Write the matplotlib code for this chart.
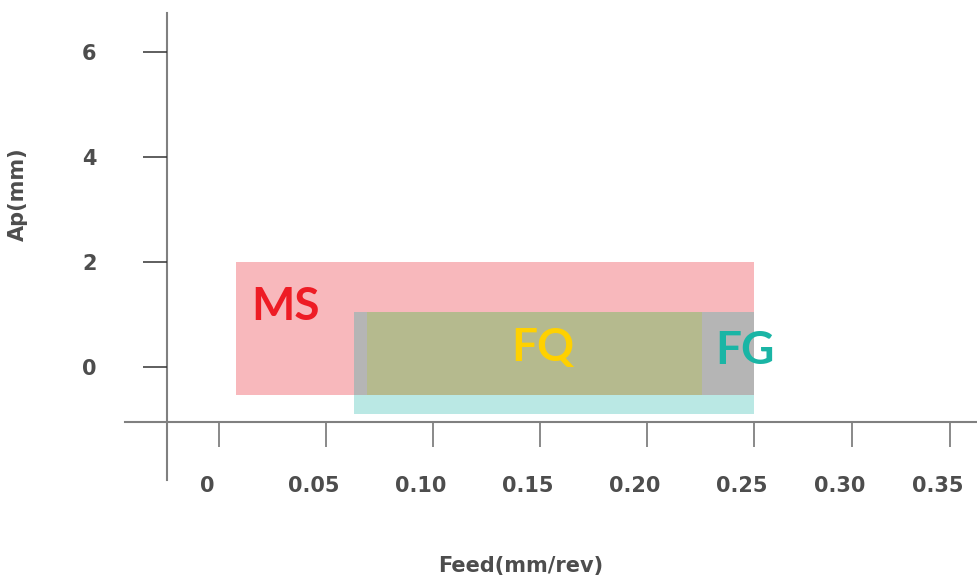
import matplotlib
matplotlib.use("Agg")
import matplotlib.pyplot as plt
import matplotlib.patches as mpatches
import matplotlib.transforms as mtransforms
import numpy as np

# Operating windows: feed range (mm/rev) and Ap range (mm)
grades = ["MS", "FG", "FQ"]
feed_min = [0.008, 0.063, 0.069]
feed_max = [0.250, 0.250, 0.226]
ap_min = [-0.54, -0.90, -0.54]
ap_max = [2.00, 1.04, 1.04]

xticks = [0, 0.05, 0.10, 0.15, 0.20, 0.25, 0.30, 0.35]
xtick_labels = ["0", "0.05", "0.10", "0.15", "0.20", "0.25", "0.30", "0.35"]
yticks = [0, 2, 4, 6]
ytick_labels = ["0", "2", "4", "6"]

PINK = "#F8B8BC"
CYAN = "#BAE8E4"
GRAY = "#B5B5B5"
OLIVE = "#B5BA8E"
TXT = "#4D4D4D"
AXC = "#808080"

# the original axis is squeezed a bit beyond 0.25
BREAK, SQUEEZE = 0.25, 0.916


def fwd(x):
    x = np.asarray(x, dtype=float)
    return np.where(x <= BREAK, x, BREAK + (x - BREAK) * SQUEEZE)


def inv(x):
    x = np.asarray(x, dtype=float)
    return np.where(x <= BREAK, x, BREAK + (x - BREAK) / SQUEEZE)


fig = plt.figure(figsize=(9.78, 5.78), dpi=100)
ax = fig.add_axes([0, 0, 1, 1])
ax.set_xscale("function", functions=(fwd, inv))
ax.set_xlim(-0.1024, 0.3645)
ax.set_ylim(-4.031, 6.99)
ax.patch.set_alpha(0)


def rect(i, color, x0=None, x1=None, y0=None, y1=None):
    x0 = feed_min[i] if x0 is None else x0
    x1 = feed_max[i] if x1 is None else x1
    y0 = ap_min[i] if y0 is None else y0
    y1 = ap_max[i] if y1 is None else y1
    ax.add_patch(mpatches.Rectangle((x0, y0), x1 - x0, y1 - y0,
                                    facecolor=color, edgecolor="none", zorder=2))


# MS (pink), FG (cyan, gray where it overlaps MS), FQ (olive)
rect(0, PINK)
rect(1, CYAN)
rect(1, GRAY, x0=max(feed_min[0], feed_min[1]), x1=min(feed_max[0], feed_max[1]),
     y0=max(ap_min[0], ap_min[1]), y1=min(ap_max[0], ap_max[1]))
rect(2, OLIVE)

lab_font = dict(fontsize=33, fontweight="bold", family=["Lato", "DejaVu Sans"],
                va="center", ha="center")
ax.text(0.0310, 1.13, "MS", color="#EE1C25", **lab_font)
ax.text(0.1515, 0.35, "FQ", color="#FFD100", **lab_font)
ax.text(0.2460, 0.30, "FG", color="#1AB5A5", **lab_font)

# axes lines
for s in ["top", "right"]:
    ax.spines[s].set_visible(False)
ax.spines["left"].set_position(("data", -0.0243))
ax.spines["left"].set_bounds(-2.16, 6.74)
ax.spines["bottom"].set_position(("data", -1.056))
ax.spines["bottom"].set_bounds(-0.044, 0.3645)
for s in ["left", "bottom"]:
    ax.spines[s].set_color(AXC)
    ax.spines[s].set_linewidth(1.5)
    ax.spines[s].set_zorder(1)

ax.set_xticks(xticks)
ax.set_xticklabels(xtick_labels)
ax.set_yticks(yticks)
ax.set_yticklabels(ytick_labels)
ax.minorticks_off()
ax.tick_params(axis="x", direction="out", length=18, width=1.3, color=AXC,
               pad=21, labelsize=15, labelcolor=TXT)
ax.tick_params(axis="y", direction="out", length=17, width=1.1, color="#333333",
               pad=39, labelsize=15, labelcolor=TXT)
for lab in ax.get_xticklabels() + ax.get_yticklabels():
    lab.set_fontweight("bold")
for lab in ax.get_yticklabels():
    lab.set_horizontalalignment("center")
shift = mtransforms.ScaledTranslation(-12 / 100, 0, fig.dpi_scale_trans)
for lab in ax.get_xticklabels():
    lab.set_transform(lab.get_transform() + shift)

fig.text(18 / 978, 1 - 194 / 578, "Ap(mm)", rotation=90, ha="center", va="center",
         fontsize=15, fontweight="bold", color=TXT)
fig.text(521 / 978, 1 - 566 / 578, "Feed(mm/rev)", ha="center", va="center",
         fontsize=15, fontweight="bold", color=TXT)

fig.savefig("out.png", dpi=100)
